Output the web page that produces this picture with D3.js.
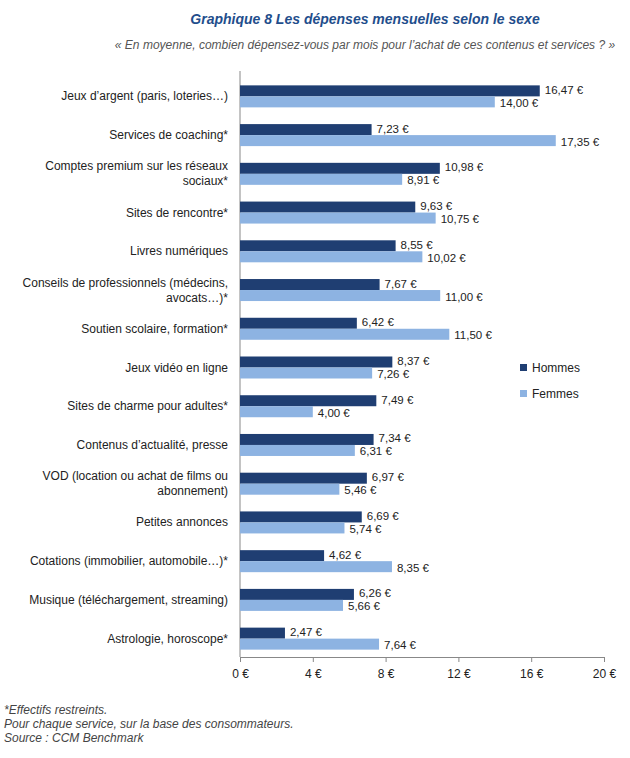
<!DOCTYPE html>
<html lang="fr">
<head>
<meta charset="UTF-8">
<script src="https://d3js.org/d3.v7.min.js"></script>
<style>
  body { margin: 0; background: #fff; font-family: 'Liberation Sans', Arial, sans-serif; }
  text { font-family: 'Liberation Sans', Arial, sans-serif; }
</style>
</head>
<body>
<svg id="chart" width="630" height="758"></svg>
<script>
const categories = [
  ["Jeux d’argent (paris, loteries…)"],
  ["Services de coaching*"],
  ["Comptes premium sur les réseaux", "sociaux*"],
  ["Sites de rencontre*"],
  ["Livres numériques"],
  ["Conseils de professionnels  (médecins,", "avocats…)*"],
  ["Soutien scolaire, formation*"],
  ["Jeux vidéo en ligne"],
  ["Sites de charme pour adultes*"],
  ["Contenus d’actualité, presse"],
  ["VOD (location ou achat de films ou", "abonnement)"],
  ["Petites annonces"],
  ["Cotations (immobilier, automobile…)*"],
  ["Musique (téléchargement, streaming)"],
  ["Astrologie, horoscope*"]
];
const hommes = [16.47, 7.23, 10.98, 9.63, 8.55, 7.67, 6.42, 8.37, 7.49, 7.34, 6.97, 6.69, 4.62, 6.26, 2.47];
const femmes = [14.00, 17.35, 8.91, 10.75, 10.02, 11.00, 11.50, 7.26, 4.00, 6.31, 5.46, 5.74, 8.35, 5.66, 7.64];
const ticks = [0, 4, 8, 12, 16, 20];
const seriesNames = ["Hommes", "Femmes"];
const colors = ["#1f3e72", "#8db3e2"];

const svg = d3.select("#chart");
const fmt = v => v.toFixed(2).replace(".", ",") + " €";

svg.append("text").attr("x", 365).attr("y", 24).attr("text-anchor", "middle")
  .attr("font-size", 14).attr("font-weight", "bold").attr("font-style", "italic")
  .attr("fill", "#1f4e8c").text("Graphique 8 Les dépenses mensuelles selon le sexe");
svg.append("text").attr("x", 365).attr("y", 49).attr("text-anchor", "middle")
  .attr("font-size", 12).attr("font-style", "italic").attr("fill", "#555")
  .text("« En moyenne, combien dépensez-vous par mois pour l’achat de ces contenus et services ? »");

const x = d3.scaleLinear().domain([0, 20]).range([240, 604]);
const y = d3.scaleBand().domain(d3.range(categories.length)).range([77, 658]);
const bh = 11;

const axis = svg.append("g").attr("transform", "translate(0,657)")
  .call(d3.axisBottom(x).tickValues(ticks).tickSize(5).tickFormat(d => d + " €"));
axis.select(".domain").attr("stroke", "#888");
axis.selectAll(".tick line").attr("stroke", "#888");
axis.selectAll("text").attr("font-size", 12).attr("fill", "#222").attr("dy", "1.1em");
svg.append("line").attr("x1", 240).attr("x2", 240).attr("y1", 71).attr("y2", 657).attr("stroke", "#888");

const g = svg.append("g").selectAll("g").data(categories).join("g");
[hommes, femmes].forEach((vals, s) => {
  g.append("rect")
    .attr("x", x(0))
    .attr("y", (d, i) => y(i) + y.bandwidth() / 2 - bh + s * bh)
    .attr("width", (d, i) => x(vals[i]) - x(0))
    .attr("height", bh)
    .attr("fill", colors[s]);
  g.append("text")
    .attr("x", (d, i) => x(vals[i]) + 5)
    .attr("y", (d, i) => y(i) + y.bandwidth() / 2 - bh / 2 + s * (bh + 2) + 3)
    .attr("font-size", 11.5).attr("fill", "#222")
    .text((d, i) => fmt(vals[i]));
});
g.each(function (d, i) {
  const t = d3.select(this).append("text").attr("text-anchor", "end")
    .attr("font-size", 12).attr("fill", "#222");
  const cy = y(i) + y.bandwidth() / 2 + 4 - (d.length - 1) * 7.5;
  d.forEach((line, k) => t.append("tspan").attr("x", 228).attr("y", cy + k * 15).text(line));
});

const leg = svg.append("g").attr("transform", "translate(520,364)");
seriesNames.forEach((n, i) => {
  leg.append("rect").attr("x", 0).attr("y", i * 26).attr("width", 7).attr("height", 7).attr("fill", colors[i]);
  leg.append("text").attr("x", 12).attr("y", i * 26 + 8).attr("font-size", 12).attr("fill", "#222").text(n);
});

const notes = ["*Effectifs restreints.", "Pour chaque service, sur la base des consommateurs.", "Source : CCM Benchmark"];
notes.forEach((n, i) => svg.append("text").attr("x", 4).attr("y", 714 + i * 14)
  .attr("font-size", 12).attr("font-style", "italic").attr("fill", "#444").text(n));
</script>
</body>
</html>
